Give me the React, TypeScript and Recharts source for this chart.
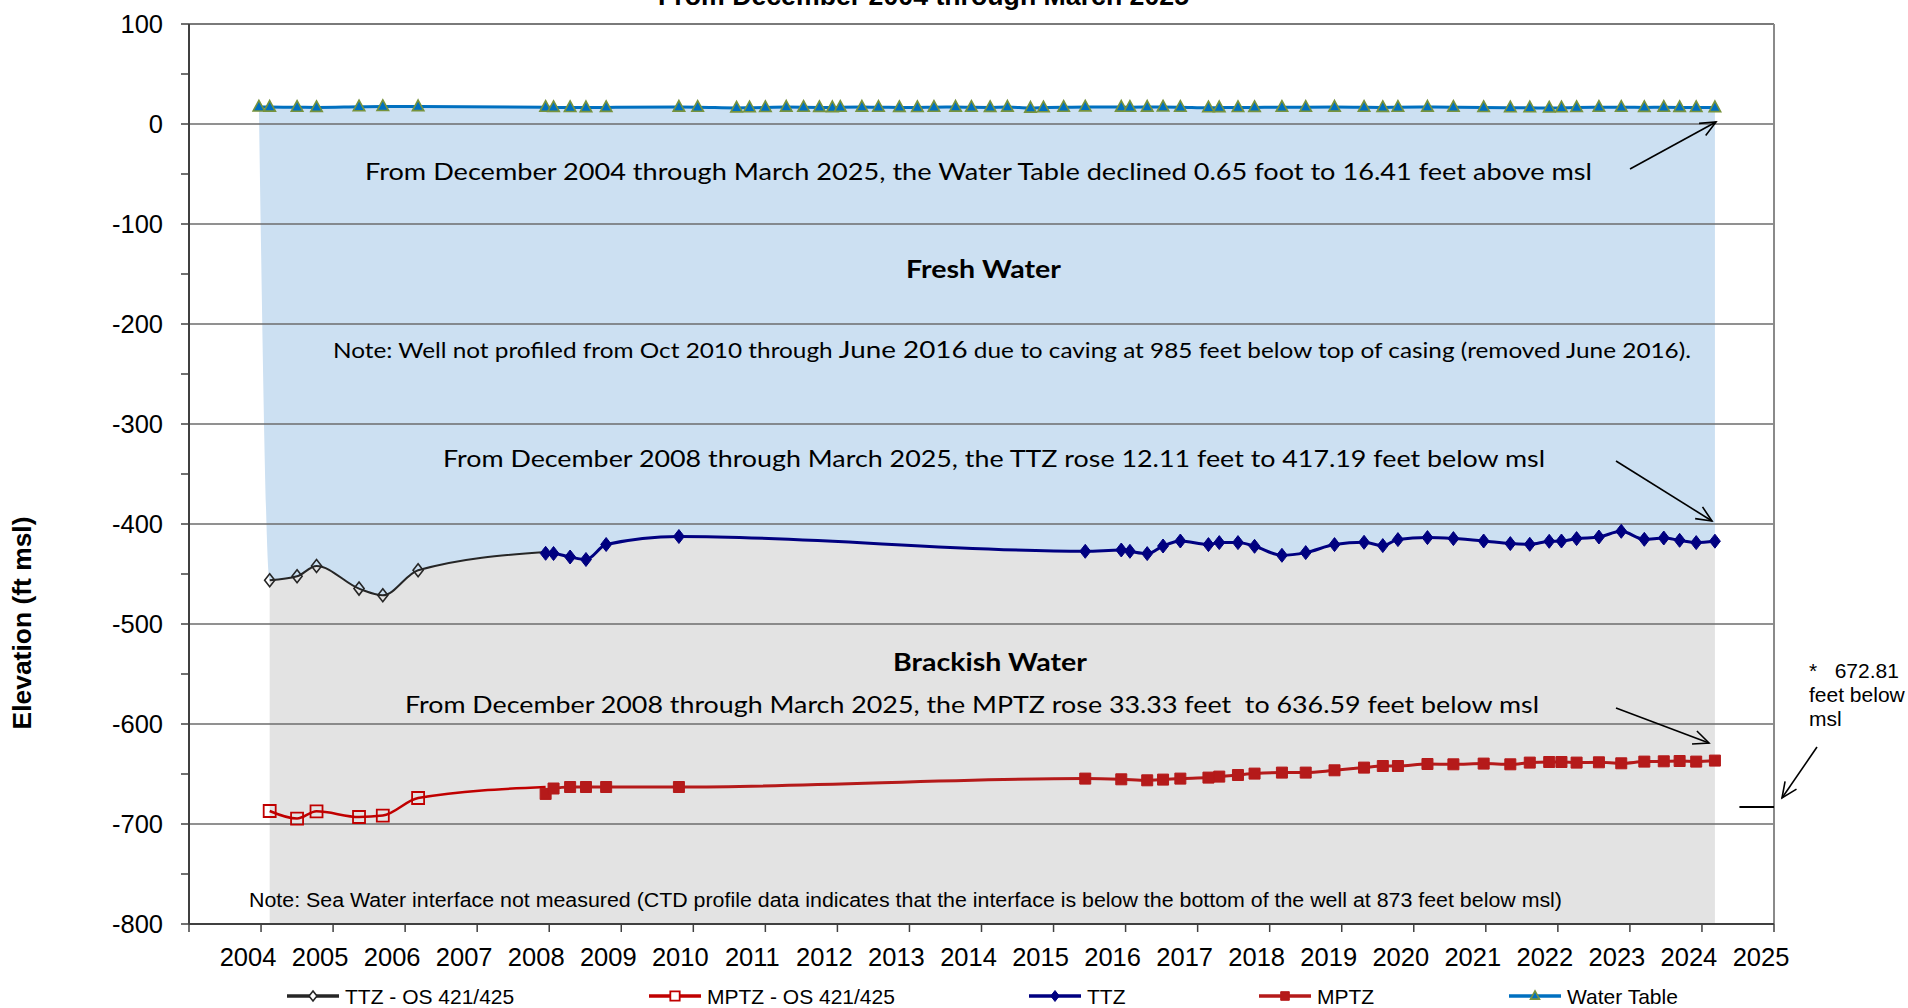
import React from 'react';
import { Area, ComposedChart, Line, ReferenceLine, XAxis, YAxis } from 'recharts';

// Sampling dates as decimal years on the chart's date axis
const wtDates = [
  2003.97, 2004.12, 2004.5, 2004.77, 2005.36, 2005.69, 2006.18, 2007.95, 2008.06, 2008.29,
  2008.51, 2008.79, 2009.8, 2010.06, 2010.6, 2010.78, 2011.0, 2011.29, 2011.53, 2011.75,
  2011.93, 2012.04, 2012.34, 2012.57, 2012.86, 2013.11, 2013.34, 2013.64, 2013.86, 2014.12,
  2014.36, 2014.68, 2014.86, 2015.14, 2015.44, 2015.94, 2016.06, 2016.3, 2016.52, 2016.76,
  2017.15, 2017.3, 2017.56, 2017.79, 2018.17, 2018.5, 2018.9, 2019.31, 2019.57, 2019.78,
  2020.19, 2020.55, 2020.97, 2021.34, 2021.61, 2021.88, 2022.05, 2022.26, 2022.57, 2022.88,
  2023.2, 2023.47, 2023.69, 2023.92, 2024.18,
];
const wtValues = [
  17.06, 16.9, 16.8, 16.6, 17.2, 17.5, 17.4, 16.7, 16.6, 16.5,
  16.4, 16.6, 16.9, 16.8, 16.1, 16.3, 16.5, 16.9, 16.8, 16.6,
  16.4, 16.7, 16.9, 16.8, 16.6, 16.5, 16.8, 16.9, 16.7, 16.6,
  16.9, 15.9, 16.3, 16.8, 17.1, 16.9, 16.8, 16.9, 17.0, 16.8,
  16.2, 16.4, 16.5, 16.6, 16.7, 16.8, 16.9, 16.7, 16.6, 16.8,
  16.9, 16.7, 16.5, 16.3, 16.2, 16.0, 16.2, 16.5, 16.7, 16.8,
  16.6, 16.7, 16.6, 16.5, 16.41,
];

// OS 421/425 profiles; the last point joins the new well's first profile
const osDates = [2004.12, 2004.5, 2004.77, 2005.36, 2005.69, 2006.18, 2007.95];
const ttzOsValues = [-456.3, -452.3, -442, -464.6, -471.3, -446.3, -428];
const mptzOsValues = [-687, -694.6, -687.3, -693, -691.6, -674, -663];

const ttzDates = [
  2007.95, 2008.06, 2008.29, 2008.51, 2008.79, 2009.8, 2015.44, 2015.94, 2016.06, 2016.3,
  2016.52, 2016.76, 2017.15, 2017.3, 2017.56, 2017.79, 2018.17, 2018.5, 2018.9, 2019.31,
  2019.57, 2019.78, 2020.19, 2020.55, 2020.97, 2021.34, 2021.61, 2021.88, 2022.05, 2022.26,
  2022.57, 2022.88, 2023.2, 2023.47, 2023.69, 2023.92, 2024.18,
];
const ttzValues = [
  -429.3, -429.5, -433, -435.5, -420.5, -412.5, -427.3, -426, -427.3, -429.6,
  -422, -417, -420.6, -418.6, -418.6, -422.3, -431.3, -428.6, -420.6, -418.3,
  -421.6, -415.6, -413.6, -414.6, -417, -419.6, -420.3, -417.3, -417, -414.6,
  -413, -407.3, -415.3, -414, -416.3, -418.6, -417.19,
];

const mptzDates = [
  2007.95, 2008.06, 2008.29, 2008.51, 2008.79, 2009.8, 2015.44, 2015.94, 2016.3, 2016.52,
  2016.76, 2017.15, 2017.3, 2017.56, 2017.79, 2018.17, 2018.5, 2018.9, 2019.31, 2019.57,
  2019.78, 2020.19, 2020.55, 2020.97, 2021.34, 2021.61, 2021.88, 2022.05, 2022.26, 2022.57,
  2022.88, 2023.2, 2023.47, 2023.69, 2023.92, 2024.18,
];
const mptzValues = [
  -669.92, -664.5, -663, -663, -663, -663, -654.6, -655.3, -656.3, -655.6,
  -654.6, -653.6, -652.6, -651, -649.6, -648.6, -648.6, -646.3, -643.6, -642,
  -642, -640, -640.3, -639.6, -640.3, -638.6, -638, -638, -638.6, -638.3,
  -639.3, -637.6, -637.3, -637, -637.6, -636.59,
];

const yearTicks = [
  2003, 2004, 2005, 2006, 2007, 2008, 2009, 2010, 2011, 2012, 2013, 2014,
  2015, 2016, 2017, 2018, 2019, 2020, 2021, 2022, 2023, 2024, 2025,
];
const elevationTicks = [
  -800, -750, -700, -650, -600, -550, -500, -450, -400, -350,
  -300, -250, -200, -150, -100, -50, 0, 50, 100,
];
const gridValues = [-700, -600, -500, -400, -300, -200, -100, 0];
const wellBottomMark = -683;

const ARIAL = '"Liberation Sans", Arial, sans-serif';
const CALIBRI = 'Lato, "Open Sans", sans-serif';
const NB = '\u00a0';

// one table for the shared numeric date axis
const table = (() => {
  const rows = new Map<number, any>();
  const put = (dates: number[], values: number[], key: string) =>
    dates.forEach((t, i) => {
      const r = rows.get(t) ?? { t };
      r[key] = values[i];
      rows.set(t, r);
    });
  put(wtDates, wtValues, 'wt');
  put(osDates, ttzOsValues, 'ttzOs');
  put(osDates, mptzOsValues, 'mptzOs');
  put(ttzDates, ttzValues, 'ttz');
  put(mptzDates, mptzValues, 'mptz');
  const out = Array.from(rows.values()).sort((a, b) => a.t - b.t);
  out.forEach((r, i) => {
    r.fill = r.ttz ?? r.ttzOs;
    // fresh-water band: between the transition zone top and the water table
    if (r.wt != null && r.fill != null) r.fresh = [r.fill, r.wt];
    else if (i === 0 && r.wt != null) r.fresh = [r.wt, r.wt];
  });
  return out;
})();

type Shape = 'diamond' | 'square' | 'triangle';

function markerPath(shape: Shape, cx: number, cy: number, s: number) {
  if (shape === 'diamond') {
    const w = s * 0.78, h = s;
    return `M${cx},${cy - h / 2}L${cx + w / 2},${cy}L${cx},${cy + h / 2}L${cx - w / 2},${cy}Z`;
  }
  if (shape === 'square') {
    const h = s / 2;
    return `M${cx - h},${cy - h}H${cx + h}V${cy + h}H${cx - h}Z`;
  }
  const w = s, h = s * 0.92;
  return `M${cx},${cy - h * 0.62}L${cx + w / 2},${cy + h * 0.38}L${cx - w / 2},${cy + h * 0.38}Z`;
}

const makeDot = (name: string, shape: Shape, size: number, fill: string, stroke: string, sw: number, skipT?: number) =>
  (p: any) => {
    const { cx, cy, index, value, payload } = p;
    if (cx == null || cy == null || value == null || Number.isNaN(cy)) return <g key={`${name}-${index}`} />;
    if (skipT != null && payload && payload.t === skipT) return <g key={`${name}-${index}`} />;
    return (
      <path key={`${name}-${index}`} d={markerPath(shape, cx, cy, size)} fill={fill} stroke={stroke} strokeWidth={sw} />
    );
  };

const osJoin = osDates[osDates.length - 1];

const series = [
  { key: 'ttzOs', name: 'TTZ - OS 421/425', color: '#262626', width: 2, shape: 'diamond' as Shape, size: 13, fill: 'none', stroke: '#262626', sw: 1.6, skip: osJoin },
  { key: 'mptzOs', name: 'MPTZ - OS 421/425', color: '#C00000', width: 2.5, shape: 'square' as Shape, size: 12, fill: 'none', stroke: '#C00000', sw: 1.8, skip: osJoin },
  { key: 'ttz', name: 'TTZ', color: '#000080', width: 3, shape: 'diamond' as Shape, size: 14, fill: '#000080', stroke: '#000080', sw: 1 },
  { key: 'mptz', name: 'MPTZ', color: '#B51A1A', width: 3, shape: 'square' as Shape, size: 11, fill: '#B51A1A', stroke: '#B51A1A', sw: 1 },
  { key: 'wt', name: 'Water Table', color: '#0070C0', width: 3, shape: 'triangle' as Shape, size: 11.5, fill: '#0070C0', stroke: '#77933C', sw: 1.6 },
];
const legendX = [287, 649, 1029, 1259, 1509];

function Arrow({ x1, y1, x2, y2 }: { x1: number; y1: number; x2: number; y2: number }) {
  const a = Math.atan2(y2 - y1, x2 - x1);
  const L = 17, spread = 0.42;
  const p1 = [x2 - L * Math.cos(a - spread), y2 - L * Math.sin(a - spread)];
  const p2 = [x2 - L * Math.cos(a + spread), y2 - L * Math.sin(a + spread)];
  return (
    <g stroke="#000" strokeWidth={1.6} fill="none">
      <line x1={x1} y1={y1} x2={x2} y2={y2} />
      <polyline points={`${p1[0]},${p1[1]} ${x2},${y2} ${p2[0]},${p2[1]}`} />
    </g>
  );
}

export default function App() {
  return (
    <div style={{ position: 'absolute', left: 0, top: 0, width: 1908, height: 1008, background: '#fff', overflow: 'hidden' }}>
      <ComposedChart width={1908} height={1008} data={table} margin={{ top: 24, right: 134, left: 0, bottom: 24 }}>
        <XAxis
          dataKey="t"
          type="number"
          domain={[2003, 2025]}
          ticks={yearTicks}
          interval={0}
          tickFormatter={(v: number) => (v === 2003 ? '' : String(v))}
          tick={{ fill: '#000', fontSize: 25.5, fontFamily: ARIAL, dx: -13 }}
          tickLine={{ stroke: '#404040', strokeWidth: 1.5 }}
          tickSize={8}
          tickMargin={16}
          axisLine={{ stroke: '#404040', strokeWidth: 2 }}
          height={60}
        />
        <YAxis
          type="number"
          domain={[-800, 100]}
          ticks={elevationTicks}
          interval={0}
          tickFormatter={(v: number) => (v % 100 === 0 ? String(v) : '')}
          tick={{ fill: '#000', fontSize: 25.5, fontFamily: ARIAL }}
          tickLine={{ stroke: '#404040', strokeWidth: 1.5 }}
          tickSize={8}
          tickMargin={18}
          axisLine={{ stroke: '#404040', strokeWidth: 2 }}
          width={189}
        />
        <Area
          type="monotone"
          dataKey="fresh"
          fill="#CCE0F2"
          fillOpacity={1}
          stroke="none"
          connectNulls
          isAnimationActive={false}
        />
        <Area
          type="monotone"
          dataKey="fill"
          baseValue={-800}
          fill="#E3E3E3"
          fillOpacity={1}
          stroke="none"
          connectNulls
          isAnimationActive={false}
        />
        {gridValues.map((v) => (
          <ReferenceLine key={v} y={v} stroke="#6c6c6c" strokeWidth={1.3} />
        ))}
        <ReferenceLine y={100} stroke="#7a7a7a" strokeWidth={2.2} />
        <ReferenceLine x={2025} stroke="#8a8a8a" strokeWidth={2} />
        <ReferenceLine
          segment={[{ x: 2024.52, y: wellBottomMark }, { x: 2025, y: wellBottomMark }]}
          stroke="#000"
          strokeWidth={2}
          ifOverflow="visible"
        />
        {series.map((s) => (
          <Line
            key={s.key}
            type="monotone"
            dataKey={s.key}
            name={s.name}
            stroke={s.color}
            strokeWidth={s.width}
            connectNulls
            dot={makeDot(s.key, s.shape, s.size, s.fill, s.stroke, s.sw, s.skip)}
            activeDot={false}
            isAnimationActive={false}
          />
        ))}
      </ComposedChart>

      <svg width={1908} height={1008} style={{ position: 'absolute', left: 0, top: 0, pointerEvents: 'none' }}>
        <text x={658} y={5} fontFamily={ARIAL} fontWeight="bold" fontSize={26.5} textLength={531} lengthAdjust="spacingAndGlyphs">
          From December 2004 through March 2025
        </text>

        <text transform="translate(31,623) rotate(-90)" textAnchor="middle" fontFamily={ARIAL} fontWeight="bold" fontSize={26} textLength={213} lengthAdjust="spacingAndGlyphs">
          Elevation (ft msl)
        </text>

        <g fontFamily={CALIBRI} fill="#000">
          <text x={365} y={180} fontSize={24} textLength={1227} lengthAdjust="spacingAndGlyphs">
            From December 2004 through March 2025, the Water Table declined 0.65 foot to 16.41 feet above msl
          </text>
          <text x={906} y={278} fontSize={24} fontWeight="bold" textLength={155} lengthAdjust="spacingAndGlyphs">
            Fresh Water
          </text>
          <text x={333} y={358} fontSize={21} textLength={1358} lengthAdjust="spacingAndGlyphs">
            Note: Well not profiled from Oct 2010 through <tspan fontSize={24}>June 2016</tspan> due to caving at 985 feet below top of casing (removed June 2016).
          </text>
          <text x={443} y={467} fontSize={24} textLength={1102} lengthAdjust="spacingAndGlyphs">
            From December 2008 through March 2025, the TTZ rose 12.11 feet to 417.19 feet below msl
          </text>
          <text x={893} y={671} fontSize={24} fontWeight="bold" textLength={194} lengthAdjust="spacingAndGlyphs">
            Brackish Water
          </text>
          <text x={405} y={713} fontSize={24} textLength={1134} lengthAdjust="spacingAndGlyphs">
            {`From December 2008 through March 2025, the MPTZ rose 33.33 feet ${NB}to 636.59 feet below msl`}
          </text>
        </g>
        <text x={249} y={907} fontFamily={ARIAL} fontSize={20} textLength={1313} lengthAdjust="spacingAndGlyphs">
          Note: Sea Water interface not measured (CTD profile data indicates that the interface is below the bottom of the well at 873 feet below msl)
        </text>

        <g fontFamily={ARIAL} fontSize={21} fill="#000">
          <text x={1809} y={678}>{`*${NB}${NB}${NB}672.81`}</text>
          <text x={1809} y={702}>feet below</text>
          <text x={1809} y={726}>msl</text>
        </g>

        <Arrow x1={1630} y1={169} x2={1716} y2={122} />
        <Arrow x1={1616} y1={461} x2={1712} y2={521} />
        <Arrow x1={1616} y1={708} x2={1709} y2={743} />
        <Arrow x1={1817} y1={747} x2={1782} y2={798} />

        {series.map((s, i) => {
          const x0 = legendX[i];
          const y = 996;
          return (
            <g key={s.key}>
              <line x1={x0} y1={y} x2={x0 + 52} y2={y} stroke={s.color} strokeWidth={3.5} />
              <path d={markerPath(s.shape, x0 + 26, y, s.size * 0.78)} fill={s.fill === 'none' ? '#fff' : s.fill} stroke={s.stroke} strokeWidth={s.sw} />
              <text x={x0 + 58} y={y + 7.5} fontFamily={ARIAL} fontSize={21} fill="#000">
                {s.name}
              </text>
            </g>
          );
        })}
      </svg>
    </div>
  );
}
